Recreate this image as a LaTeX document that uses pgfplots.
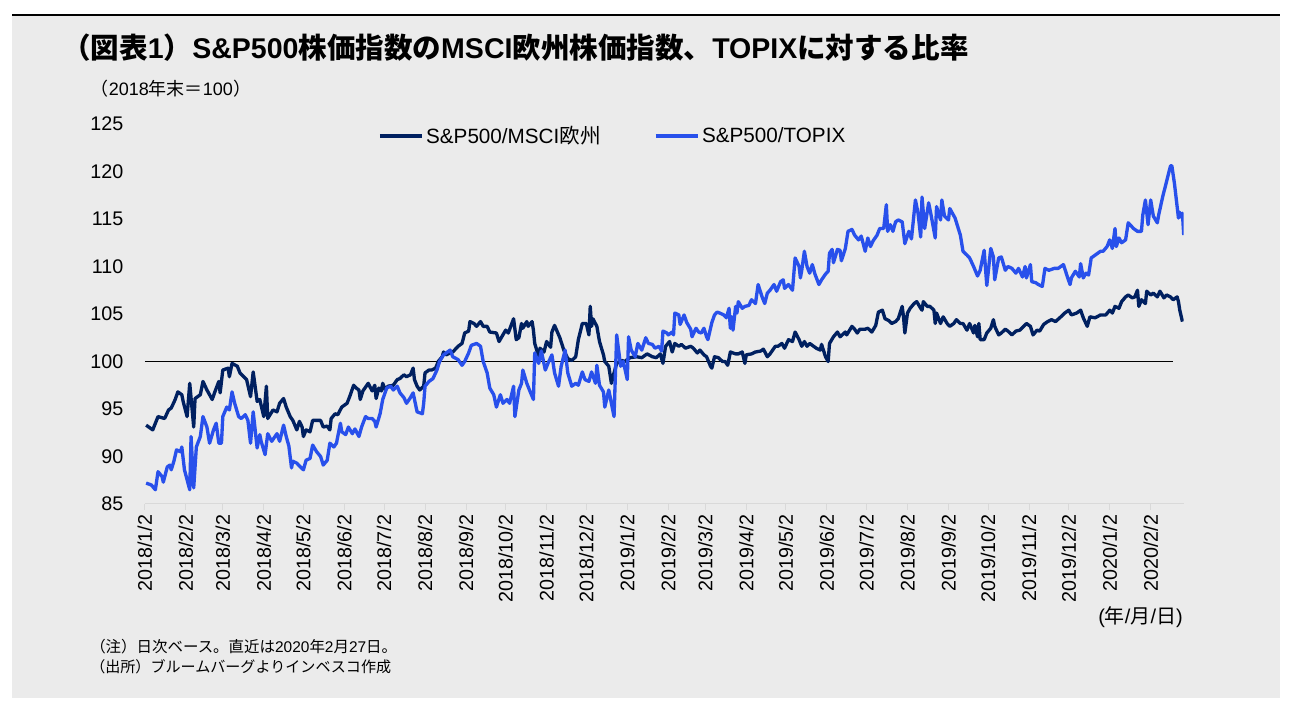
\documentclass[border=0pt]{standalone}
\usepackage{fontspec}
\setmainfont{Liberation Sans}
\newfontfamily\cjk{Noto Sans CJK JP}
\usepackage{pgfplots}
\usepackage{pgfplotstable}
\pgfplotsset{compat=1.18}

\definecolor{panelgray}{RGB}{235,235,235}
\definecolor{navy}{RGB}{0,32,96}
\definecolor{brightblue}{RGB}{40,80,235}

% x = days since 2018/1/2
\pgfplotstableread{
day val
1 93.3
6 92.8
10 94.2
15 94.0
18 94.9
20 95.1
23 96.0
25 96.8
28 96.5
29 95.8
32 94.2
34 97.7
37 93.1
38 96.1
42 96.5
44 97.9
47 97.0
51 96.0
53 96.8
56 97.9
57 96.7
59 99.1
63 99.3
64 98.4
66 99.8
70 99.5
72 98.8
77 98.1
80 96.3
82 98.9
85 95.8
87 96.0
90 94.2
92 97.4
93 94.0
97 94.9
100 94.7
102 95.6
105 96.1
107 95.2
110 94.2
112 93.8
115 92.8
117 93.7
119 93.1
120 92.1
122 92.8
125 92.6
127 93.8
133 93.8
135 93.1
138 93.2
140 92.8
141 94.0
144 94.5
146 94.4
149 95.2
153 95.6
155 96.3
158 97.5
160 97.2
162 97.0
163 96.0
165 96.9
169 97.7
172 96.9
174 97.5
175 96.1
177 97.2
179 96.9
180 97.7
182 97.0
184 97.4
188 97.5
191 98.1
193 98.2
196 98.6
198 98.4
201 98.6
203 99.3
204 98.1
206 97.4
208 97.0
211 97.4
212 98.8
215 99.1
217 99.1
220 99.3
222 100.0
225 100.5
226 101.0
228 100.7
231 100.9
233 101.0
237 101.6
240 101.9
242 103.0
245 103.2
246 104.2
249 104.0
251 103.7
254 104.2
256 103.7
259 103.7
261 103.1
266 103.0
268 102.1
273 103.3
275 103.0
279 104.5
281 102.3
283 102.5
285 104.0
286 103.5
289 104.2
290 103.7
293 104.2
294 103.3
295 101.9
298 100.5
299 101.4
302 101.0
304 102.1
307 101.5
308 103.1
310 103.8
314 102.5
317 101.2
320 100.3
323 100.1
326 100.5
328 102.3
331 104.0
334 104.0
336 102.8
337 105.8
338 103.7
339 104.5
342 103.7
344 102.1
347 100.7
348 100.0
351 99.5
353 97.7
355 98.8
357 99.8
361 100.1
363 100.0
367 100.4
372 100.5
376 100.4
380 100.8
384 100.5
387 100.4
390 100.8
392 99.8
394 101.6
397 102.1
399 101.0
401 101.9
404 101.6
406 101.8
409 101.4
413 101.6
415 101.4
418 100.9
420 101.2
423 100.7
425 100.5
428 99.5
429 99.3
431 100.5
434 100.4
437 100.0
439 100.0
441 99.6
443 101.0
447 100.8
449 100.8
452 101.0
454 99.8
455 100.7
459 100.8
462 101.0
466 101.1
468 101.3
471 100.5
473 100.8
477 101.6
479 101.6
482 101.9
484 101.4
487 102.3
490 102.1
492 103.1
495 102.3
497 101.6
499 102.1
501 101.6
503 101.9
506 101.6
508 101.4
511 101.2
512 101.8
515 100.5
517 100.0
518 101.9
521 102.6
524 103.1
526 102.6
530 103.1
531 102.8
535 103.7
537 103.4
539 103.0
541 103.4
545 103.4
547 103.5
550 103.1
553 103.8
555 105.2
558 105.4
560 104.5
563 104.3
565 104.0
568 104.2
570 104.5
573 105.8
574 104.7
575 103.0
577 105.1
579 105.6
582 106.1
584 106.3
587 105.6
588 105.4
589 106.3
592 105.8
594 105.8
597 105.4
598 104.0
599 105.1
602 104.0
604 104.7
607 104.0
609 103.7
612 104.0
614 104.4
617 104.0
619 104.0
622 103.3
624 104.0
627 103.0
628 103.8
630 102.6
631 104.0
632 102.3
635 102.3
637 103.0
640 103.5
642 104.4
643 103.7
646 102.8
648 103.0
651 103.4
653 103.2
656 102.8
659 103.2
662 103.3
667 104.0
670 103.7
672 102.8
675 103.3
677 103.2
680 103.9
683 104.2
686 104.4
689 104.2
693 104.7
696 105.1
699 105.4
701 104.9
705 105.1
708 105.4
710 104.6
713 103.7
715 104.7
719 104.6
723 104.9
727 104.9
730 105.4
732 105.1
734 105.8
737 105.6
739 106.3
742 106.8
744 107.0
747 106.7
749 106.8
751 107.5
752 105.8
754 106.5
757 106.1
758 107.4
761 107.0
763 107.2
766 106.8
768 107.4
771 106.7
773 107.0
776 106.8
778 106.5
781 106.8
782 106.3
783 105.4
785 104.2
}\msci

\pgfplotstableread{
day val
1 87.2
5 87.0
8 86.5
10 88.4
13 87.9
14 87.3
17 88.9
19 89.1
20 88.6
22 89.5
24 90.7
27 90.5
28 91.0
30 88.6
34 86.5
35 92.1
37 86.7
39 91.0
42 92.1
44 94.2
47 93.1
49 91.4
52 92.8
54 93.5
56 91.4
58 91.4
59 94.2
62 95.2
64 94.9
66 96.8
68 95.6
71 94.2
73 94.0
76 94.4
78 93.8
80 91.4
82 94.7
85 90.9
87 92.3
88 91.6
91 90.2
93 92.4
96 91.6
100 92.4
102 91.6
105 93.3
107 92.1
109 91.1
111 88.8
112 89.5
115 89.3
117 89.0
120 88.6
122 89.6
125 89.8
127 91.2
130 90.5
133 90.0
135 89.1
138 89.6
140 91.4
143 91.0
145 91.4
148 93.5
149 92.6
152 92.3
154 93.1
157 92.4
159 92.9
162 92.1
164 93.1
167 94.2
169 94.0
172 94.0
174 93.7
175 93.1
178 94.5
180 96.0
183 97.2
186 97.4
188 97.0
191 97.4
193 96.7
196 96.2
198 95.6
201 96.2
203 96.7
206 94.7
210 94.5
211 95.6
212 97.4
215 97.9
218 98.2
221 99.1
223 100.0
226 100.7
228 100.9
231 101.2
233 100.5
237 100.2
240 99.6
242 100.0
245 100.9
247 101.7
251 101.9
254 101.6
256 100.0
259 98.8
261 97.2
264 96.5
266 95.2
269 96.5
271 95.6
274 96.0
276 95.6
279 97.4
280 94.2
283 97.0
285 97.7
286 99.1
289 97.7
291 97.0
294 96.0
295 100.9
298 99.8
300 101.1
303 99.1
305 99.8
308 100.7
310 98.8
313 97.4
315 99.5
318 101.2
320 98.8
323 97.4
326 97.7
328 97.5
331 98.9
333 98.1
336 97.9
338 98.9
341 97.7
342 99.6
344 97.5
347 96.8
348 95.2
351 97.0
353 95.6
355 94.2
357 102.8
360 99.5
362 100.0
365 98.1
366 102.6
368 101.2
371 100.5
373 101.9
376 101.2
379 102.5
381 101.9
384 101.8
386 101.4
389 101.6
391 101.1
392 103.2
395 103.0
396 102.8
399 103.1
400 102.8
401 105.1
404 104.9
405 103.9
408 104.9
410 104.1
413 103.4
414 102.6
417 103.5
419 103.1
421 103.0
423 103.5
425 102.6
426 102.3
429 104.1
431 104.9
433 105.2
435 105.1
438 104.9
440 104.6
442 105.6
443 103.5
444 104.7
445 103.3
447 105.8
448 105.1
449 106.3
452 105.6
454 105.8
457 105.9
459 106.5
462 106.1
464 108.1
467 106.8
469 106.1
471 107.2
473 107.5
476 108.1
478 107.4
481 108.4
483 108.6
484 107.7
487 108.1
490 107.5
492 110.9
495 110.0
496 108.8
497 109.6
499 111.6
501 110.0
503 109.3
505 110.2
507 109.2
510 108.1
512 108.6
515 109.2
517 109.5
518 111.4
520 111.8
521 110.4
524 111.8
526 111.7
527 110.6
530 111.9
532 113.7
535 113.9
537 113.3
540 112.8
542 113.2
545 111.6
547 113.0
549 112.1
551 112.7
554 113.3
556 114.0
559 114.0
561 116.5
562 113.7
564 114.4
566 113.7
568 114.7
570 114.9
573 114.7
575 112.4
578 113.7
580 112.9
583 117.0
585 115.6
587 113.1
588 117.3
590 114.0
593 116.7
595 115.3
598 113.0
599 116.3
602 114.9
603 117.0
605 115.3
608 114.9
609 116.1
613 115.1
617 113.3
619 111.6
622 111.2
624 110.9
627 110.0
630 109.0
632 109.6
635 111.7
637 108.0
640 111.9
642 111.0
643 108.6
646 110.9
648 111.0
651 109.6
653 110.0
656 109.8
659 109.3
661 109.8
664 108.9
666 110.0
667 108.8
670 110.2
671 108.4
674 108.3
676 108.1
679 107.9
681 109.8
684 109.6
688 109.8
691 109.8
695 110.2
698 108.9
700 108.1
701 108.8
704 109.5
707 108.9
708 110.3
710 108.8
712 109.3
714 109.1
716 110.9
719 111.2
723 111.6
725 111.6
728 112.1
730 112.8
732 111.9
734 114.0
735 112.1
737 113.0
739 112.5
742 112.8
744 114.6
748 114.0
751 113.7
754 113.7
755 115.4
757 117.0
759 114.4
761 117.0
763 115.3
766 114.6
767 115.4
770 117.3
772 118.4
776 120.6
777 120.6
779 118.7
782 115.1
783 115.7
784 115.2
785 115.6
786 113.3
}\topix

\begin{document}
\begin{tikzpicture}
\path[use as bounding box, fill=white] (0,0) rectangle (971.25pt,540pt);
\fill[panelgray] (9pt,16.5pt) rectangle (960pt,528pt);
\draw[black, line width=1pt] (9pt,528.75pt) -- (960pt,528.75pt);

\node[anchor=west, inner sep=0pt] at (46.5pt,504pt)
  {\fontsize{21.4}{25}\selectfont\bfseries {\cjk （図表}1{\cjk ）}S\&P500{\cjk 株価指数の}MSCI{\cjk 欧州株価指数、}TOPIX{\cjk に対する比率}};
\node[anchor=west, inner sep=0pt] at (68pt,473.25pt)
  {\fontsize{13.5}{16}\selectfont {\cjk （}2018{\cjk 年末＝}100{\cjk ）}};
\node[anchor=east, inner sep=0pt] at (887.25pt,77.25pt)
  {\fontsize{15}{18}\selectfont ({\cjk 年}/{\cjk 月}/{\cjk 日})};
\node[anchor=west, inner sep=0pt] at (67.5pt,54.75pt)
  {\fontsize{11.6}{14}\selectfont {\cjk （注）日次ベース。直近は}2020{\cjk 年}2{\cjk 月}27{\cjk 日。}};
\node[anchor=west, inner sep=0pt] at (67.5pt,39.75pt)
  {\fontsize{11.3}{14}\selectfont {\cjk （出所）ブルームバーグよりインベスコ作成}};

\begin{axis}[
  at={(108.6pt,162pt)}, anchor=south west,
  scale only axis, width=779.2pt, height=285pt,
  xmin=0, xmax=786, ymin=85, ymax=125,
  ytick={85,90,...,125},
  xtick={0,31,59,90,120,151,181,212,243,273,304,334,365,396,424,455,485,516,546,577,608,638,669,699,730,761},
  xticklabels={2018/1/2,2018/2/2,2018/3/2,2018/4/2,2018/5/2,2018/6/2,2018/7/2,2018/8/2,2018/9/2,2018/10/2,2018/11/2,2018/12/2,2019/1/2,2019/2/2,2019/3/2,2019/4/2,2019/5/2,2019/6/2,2019/7/2,2019/8/2,2019/9/2,2019/10/2,2019/11/2,2019/12/2,2020/1/2,2020/2/2},
  axis x line*=bottom, axis y line*=left,
  x axis line style={draw=gray!30, line width=0.75pt, -},
  y axis line style={draw=none},
  tick align=outside, major tick length=4.5pt,
  xtick style={draw=gray!30, line width=0.75pt},
  ytick style={draw=none},
  tick label style={font=\fontsize{14.8}{17}\selectfont},
  xticklabel style={rotate=90, anchor=east},
  yticklabel style={anchor=east, xshift=-8pt},
  /pgf/number format/assume math mode=true,
  legend columns=2,
  legend style={at={(0.4507,0.968)}, anchor=center, draw=none, fill=none,
    font=\fontsize{15.5}{18}\selectfont,
    /tikz/every even column/.append style={column sep=38pt}},
  legend image code/.code={\draw[#1] (0pt,0pt) -- (31.5pt,0pt);},
]
\addplot[black, line width=0.8pt, forget plot] coordinates {(0,100) (778,100)};
\addplot[navy, line width=2.5pt, line join=round] table[x=day, y=val]{\msci};
\addlegendentry{S\&P500/MSCI{\cjk 欧州}}
\addplot[brightblue, line width=2.5pt, line join=round] table[x=day, y=val]{\topix};
\addlegendentry{S\&P500/TOPIX}
\end{axis}
\end{tikzpicture}
\end{document}
